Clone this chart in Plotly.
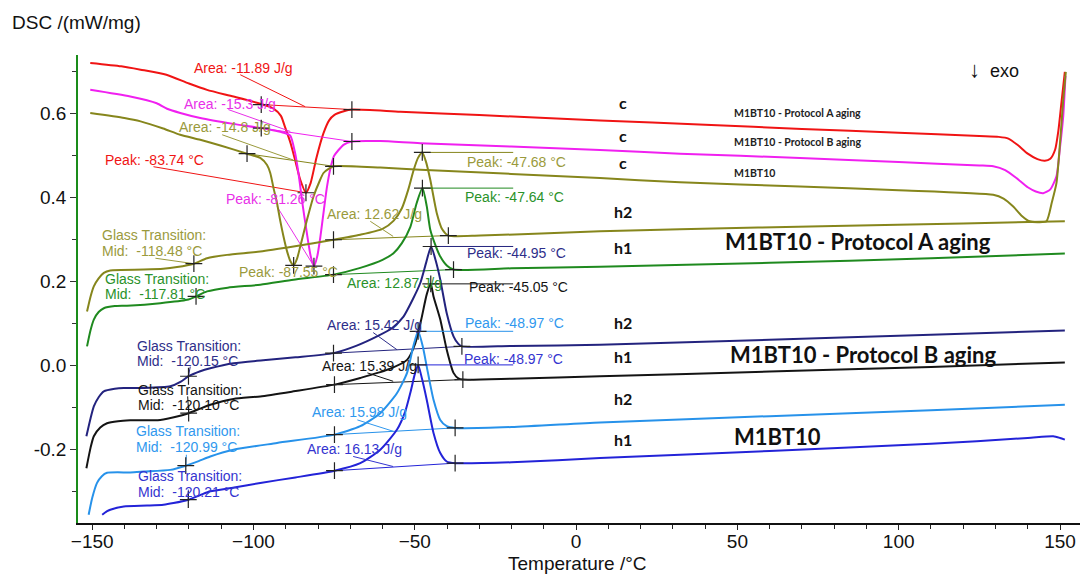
import plotly.graph_objects as go

# ---------------- DSC traces (temperature /°C, DSC /(mW/mg)) ----------------
# cooling runs (c)
T_A_c = [-150.6, -141, -135, -127, -120, -114.4, -106.2, -97.9, -93.9, -91.5, -90.3, -88.5, -87.0, -85.5,
         -83.74, -82.3, -80.5, -78.3, -76.5, -75, -72, -69.5, -54.5, -30, 7.4, 40, 70, 100, 125, 131, 134,
         137, 140, 143, 145.3, 147, 148.5, 149.5, 150.5, 151.5]
Y_A_c = [0.721, 0.713, 0.705, 0.693, 0.672, 0.657, 0.641, 0.624, 0.613, 0.595, 0.570, 0.530, 0.487, 0.443,
         0.412, 0.435, 0.495, 0.554, 0.585, 0.597, 0.606, 0.610, 0.605, 0.597, 0.584, 0.574, 0.564, 0.555,
         0.547, 0.545, 0.541, 0.525, 0.505, 0.492, 0.488, 0.493, 0.515, 0.560, 0.630, 0.700]

T_B_c = [-150.6, -138.2, -130, -126.8, -122.7, -116.5, -106.2, -97.6, -90.7, -88.6, -87.2, -86.0, -84.8,
         -83.5, -82.3, -81.26, -80.2, -79.3, -78.2, -77.2, -76.0, -75.0, -72.1, -69.5, -60.7, -48.3, 7.4,
         32.2, 69.4, 100, 125, 129.3, 133, 136.5, 140, 142.5, 144.8, 147, 148.9, 150, 151, 151.7]
Y_B_c = [0.657, 0.641, 0.625, 0.612, 0.602, 0.590, 0.576, 0.566, 0.555, 0.548, 0.510, 0.455, 0.385,
         0.318, 0.262, 0.237, 0.262, 0.305, 0.370, 0.427, 0.475, 0.500, 0.526, 0.534, 0.535, 0.530, 0.514,
         0.505, 0.495, 0.485, 0.477, 0.475, 0.466, 0.447, 0.425, 0.415, 0.411, 0.420, 0.451, 0.520, 0.594, 0.690]

T_M_c = [-150.6, -140, -135, -128, -122.7, -116.5, -110, -102, -97.9, -95.8, -94.8, -93.7, -92.7, -91.7,
         -90.7, -89.5, -88.5, -87.55, -86.5, -85.5, -83.4, -81.4, -79.5, -78.3, -76.5, -75.2, -60.7, -48.3,
         7.4, 32.2, 69.4, 100, 129.3, 132.5, 135.5, 138, 140.6, 143, 145.8, 147.5, 148.9, 150, 151, 151.8]
Y_M_c = [0.602, 0.590, 0.582, 0.565, 0.550, 0.538, 0.524, 0.505, 0.495, 0.478, 0.459, 0.420, 0.387, 0.345,
         0.308, 0.270, 0.248, 0.239, 0.255, 0.284, 0.348, 0.403, 0.440, 0.459, 0.470, 0.475, 0.472, 0.467,
         0.447, 0.437, 0.427, 0.418, 0.407, 0.398, 0.379, 0.358, 0.344, 0.342, 0.344, 0.390, 0.435, 0.530,
         0.633, 0.700]

# heating runs (h1 / h2)
T_A_h2 = [-151.6, -150.5, -149.5, -148, -146.4, -144.4, -134, -128, -123.7, -118.48, -114.4, -108.2, -97.9,
          -87.6, -75.2, -66.9, -60, -56.6, -54, -52, -50.4, -49, -47.68, -46.5, -45.2, -43.2, -41.5, -39.6,
          -29.7, 7.4, 32.2, 80, 120, 151.5]
Y_A_h2 = [0.129, 0.165, 0.189, 0.208, 0.221, 0.227, 0.229, 0.231, 0.235, 0.243, 0.256, 0.264, 0.272,
          0.284, 0.300, 0.312, 0.326, 0.345, 0.375, 0.420, 0.465, 0.495, 0.508, 0.485, 0.443, 0.364, 0.325,
          0.310, 0.310, 0.320, 0.325, 0.333, 0.339, 0.344]

T_A_h1 = [-151.6, -150.5, -149.5, -148, -146.4, -143, -139.2, -128.9, -120.6, -117.81, -114.4, -108, -97.9,
          -87.6, -75.2, -66.9, -60, -56.6, -54, -51.4, -49.5, -47.64, -46.3, -45.2, -43.5, -42.1, -40, -38,
          -20, 7.4, 60, 110, 151.5]
Y_A_h1 = [0.046, 0.085, 0.110, 0.128, 0.137, 0.142, 0.143, 0.149, 0.157, 0.165, 0.177, 0.186, 0.193,
          0.205, 0.217, 0.233, 0.252, 0.268, 0.292, 0.330, 0.385, 0.423, 0.380, 0.324, 0.285, 0.260, 0.238,
          0.229, 0.232, 0.236, 0.245, 0.256, 0.267]

T_B_h2 = [-151.8, -150.5, -149.5, -148, -146.4, -143, -140.2, -134, -125.8, -122.5, -120.15, -116.5, -113.4,
          -106.2, -97, -87, -75.2, -68, -61.7, -57, -53.5, -50.5, -48.3, -46.5, -44.95, -43.5, -42.1, -40.1,
          -38, -36.5, -35.4, -20, 7.4, 60, 110, 151.5]
Y_B_h2 = [-0.168, -0.125, -0.097, -0.075, -0.061, -0.055, -0.053, -0.053, -0.049, -0.038, -0.025, -0.013,
          -0.006, 0.006, 0.013, 0.020, 0.030, 0.048, 0.070, 0.090, 0.117, 0.160, 0.197, 0.245, 0.284, 0.250,
          0.205, 0.125, 0.070, 0.052, 0.046, 0.047, 0.050, 0.062, 0.074, 0.084]

T_B_h1 = [-151.8, -150.5, -149.5, -147.5, -145.4, -142, -138.2, -128.9, -123.7, -120.10, -116.5, -113.4,
          -106.2, -97.9, -87.6, -74.9, -66.9, -58.6, -52.4, -50, -48, -46.3, -45.05, -44.2, -42.1, -40.1,
          -38, -36.5, -35.1, -20, 7.4, 60, 110, 151.5]
Y_B_h1 = [-0.244, -0.195, -0.168, -0.147, -0.137, -0.132, -0.130, -0.129, -0.121, -0.113, -0.102, -0.093,
          -0.079, -0.073, -0.061, -0.045, -0.029, -0.010, 0.014, 0.050, 0.110, 0.170, 0.195, 0.165, 0.110,
          0.038, -0.017, -0.030, -0.033, -0.031, -0.025, -0.014, -0.003, 0.008]

T_M_h2 = [-151.1, -150, -148.5, -147, -145.4, -138.2, -134, -125.8, -120.99, -117, -113.4, -106.2, -92.7,
          -74.9, -66.9, -60.7, -55.5, -52.4, -50.5, -48.97, -47.5, -46.3, -44.2, -42.1, -40.1, -37.5, -20,
          7.4, 60, 110, 151.5]
Y_M_h2 = [-0.355, -0.315, -0.279, -0.263, -0.255, -0.254, -0.252, -0.248, -0.238, -0.227, -0.216, -0.200,
          -0.184, -0.164, -0.144, -0.113, -0.065, -0.017, 0.045, 0.082, 0.045, -0.002, -0.081, -0.129,
          -0.144, -0.148, -0.146, -0.135, -0.120, -0.106, -0.093]

T_M_h1 = [-146.9, -145.5, -144.4, -140.2, -133, -127.9, -124.8, -120.21, -116.5, -113.4, -106, -97.9, -87,
          -74.9, -66.9, -60.7, -55.5, -53, -51.4, -50, -48.97, -47.8, -46.3, -44.2, -42.1, -40.1, -37.5, -20,
          7.4, 60, 110, 140, 147.9, 150, 151.5]
Y_M_h1 = [-0.355, -0.347, -0.343, -0.335, -0.333, -0.331, -0.327, -0.319, -0.308, -0.299, -0.290, -0.279,
          -0.266, -0.250, -0.232, -0.200, -0.152, -0.110, -0.065, -0.020, 0.002, -0.030, -0.081, -0.160,
          -0.208, -0.228, -0.232, -0.230, -0.220, -0.203, -0.186, -0.172, -0.168, -0.172, -0.176]

# ---------------- evaluation results ----------------
# integration limits of each peak: (T_left, T_right), (Y_left, Y_right)
LIM_T = {"A_c": [-97.6, -69.5], "B_c": [-97.6, -69.5], "M_c": [-102, -75.2],
         "A_h2": [-75.2, -39.6], "A_h1": [-75.2, -38], "B_h2": [-75.2, -35.4],
         "B_h1": [-74.9, -35.1], "M_h2": [-74.9, -37.5], "M_h1": [-74.9, -37.5]}
LIM_Y = {"A_c": [0.622, 0.610], "B_c": [0.566, 0.534], "M_c": [0.505, 0.475],
         "A_h2": [0.300, 0.310], "A_h1": [0.217, 0.229], "B_h2": [0.030, 0.046],
         "B_h1": [-0.045, -0.033], "M_h2": [-0.164, -0.148], "M_h1": [-0.250, -0.232]}
PEAK_T = {"A_c": -83.74, "B_c": -81.26, "M_c": -87.55, "A_h2": -47.68, "A_h1": -47.64,
          "B_h2": -44.95, "B_h1": -45.05, "M_h2": -48.97, "M_h1": -48.97}
PEAK_Y = {"A_c": 0.412, "B_c": 0.237, "M_c": 0.239, "A_h2": 0.508, "A_h1": 0.423,
          "B_h2": 0.284, "B_h1": 0.195, "M_h2": 0.082, "M_h1": 0.002}
AREA = {"A_c": -11.89, "B_c": -15.3, "M_c": -14.8, "A_h2": 12.62, "A_h1": 12.87,
        "B_h2": 15.42, "B_h1": 15.39, "M_h2": 15.98, "M_h1": 16.13}
TG_T = {"A_h2": -118.48, "A_h1": -117.81, "B_h2": -120.15, "B_h1": -120.10, "M_h2": -120.99, "M_h1": -120.21}
TG_Y = {"A_h2": 0.243, "A_h1": 0.165, "B_h2": -0.025, "B_h1": -0.113, "M_h2": -0.238, "M_h1": -0.319}

# ---------------- styling ----------------
RUNS = [
    ("A_c", T_A_c, Y_A_c, "#f01414", "#f01414"),
    ("B_c", T_B_c, Y_B_c, "#f020f0", "#e830e8"),
    ("M_c", T_M_c, Y_M_c, "#86861c", "#9a9a3c"),
    ("A_h2", T_A_h2, Y_A_h2, "#86861c", "#9a9a3c"),
    ("A_h1", T_A_h1, Y_A_h1, "#1f8a1f", "#2a922a"),
    ("B_h2", T_B_h2, Y_B_h2, "#23237e", "#2e2e8a"),
    ("B_h1", T_B_h1, Y_B_h1, "#141414", "#141414"),
    ("M_h2", T_M_h2, Y_M_h2, "#2792ea", "#3098ee"),
    ("M_h1", T_M_h1, Y_M_h1, "#2323d8", "#3434d0"),
]
TXT_FONT = "Liberation Sans, Arial, sans-serif"
BOLD_FONT = "Lato, Open Sans, sans-serif"

# label placement (data coordinates of the left edge / vertical centre)
AREA_POS = {"A_c": (-119.0, 0.710), "B_c": (-122.1, 0.624), "M_c": (-123.6, 0.569),
            "A_h2": (-77.8, 0.362), "A_h1": (-71.6, 0.198), "B_h2": (-77.8, 0.098),
            "B_h1": (-79.3, 0.000), "M_h2": (-82.4, -0.110), "M_h1": (-84.0, -0.198)}
AREA_LEAD = {"A_c": ((-104.1, 0.693), (-84.0, 0.617)), "B_c": ((-107.8, 0.610), (-88.6, 0.558)),
             "M_c": ((-109.7, 0.550), (-87.7, 0.490)), "A_h2": ((-63.8, 0.344), (-56.7, 0.308)),
             "B_h2": ((-62.9, 0.079), (-55.5, 0.038)), "B_h1": ((-64.7, -0.017), (-56.7, -0.037)),
             "M_h2": ((-67.8, -0.129), (-56.7, -0.156)), "M_h1": ((-69.1, -0.216), (-56.7, -0.240))}
PEAK_POS = {"A_c": (-146.5, 0.490), "B_c": (-109.0, 0.398), "M_c": (-105.0, 0.224),
            "A_h2": (-34.4, 0.486), "A_h1": (-35.0, 0.402), "B_h2": (-34.4, 0.269),
            "B_h1": (-33.8, 0.188), "M_h2": (-35.0, 0.102), "M_h1": (-35.3, 0.017)}
PEAK_LEAD_START = {"A_c": (-131.0, 0.474), "B_c": (-92.7, 0.379)}
PEAK_LINE_END = -19.5
# two-line glass transition labels: left edge, centre of first line, centre of second line
TG_POS = {"A_h2": (-147.5, 0.312, 0.274), "A_h1": (-146.5, 0.207, 0.170), "B_h2": (-136.6, 0.047, 0.011),
          "B_h1": (-136.3, -0.057, -0.093), "M_h2": (-136.9, -0.155, -0.193), "M_h1": (-136.3, -0.263, -0.300)}
TG_LEAD_START = {"A_h2": (-130.4, 0.256), "B_h2": (-119.6, -0.002), "B_h1": (-120.4, -0.073),
                 "M_h2": (-120.8, -0.212), "M_h1": (-120.2, -0.295)}

SEG_T = ["c", "c", "c", "h2", "h1", "h2", "h1", "h2", "h1"]
SEG_Y = [0.626, 0.548, 0.483, 0.367, 0.281, 0.102, 0.021, -0.079, -0.176]
SEG_X = 14.6
SMALL_NAMES = ["M1BT10 - Protocol A aging", "M1BT10 - Protocol B aging", "M1BT10"]
SMALL_Y = [0.603, 0.532, 0.459]
SMALL_X = 48.3
BIG_NAMES = ["M1BT10 - Protocol A aging", "M1BT10 - Protocol B aging", "M1BT10"]
BIG_X = [45.5, 47.1, 48.3]
BIG_Y = [0.296, 0.026, -0.168]

fig = go.Figure()
annotations = []
line_w = 1.0


def thin(x, y, col):
    fig.add_trace(go.Scatter(x=x, y=y, mode="lines", line=dict(color=col, width=line_w), hoverinfo="skip"))


def label(x, y, text, col):
    annotations.append(dict(x=x, y=y, xref="x", yref="y", xanchor="left", yanchor="middle", showarrow=False,
                            text=text, font=dict(color=col, size=14, family=TXT_FONT)))


for key, T, Y, col, tcol in RUNS:
    fig.add_trace(go.Scatter(x=T, y=Y, mode="lines", line=dict(color=col, width=2, shape="spline", smoothing=0.6),
                             hoverinfo="skip"))
    # straight integration baseline
    thin(LIM_T[key], LIM_Y[key], col)
    if key.endswith("h1") or key.endswith("h2"):
        thin([PEAK_T[key], PEAK_LINE_END], [PEAK_Y[key], PEAK_Y[key]], col)
    # leader lines
    if key in AREA_LEAD:
        (x0, y0), (x1, y1) = AREA_LEAD[key]
        thin([x0, x1], [y0, y1], tcol)
    if key in PEAK_LEAD_START:
        x0, y0 = PEAK_LEAD_START[key]
        thin([x0, PEAK_T[key]], [y0, PEAK_Y[key]], tcol)
    if key in TG_LEAD_START:
        x0, y0 = TG_LEAD_START[key]
        thin([x0, TG_T[key]], [y0, TG_Y[key]], tcol)
    # cross markers: limits, peak, glass transition
    mx = list(LIM_T[key]) + [PEAK_T[key]]
    my = list(LIM_Y[key]) + [PEAK_Y[key]]
    if key in TG_T:
        mx.append(TG_T[key])
        my.append(TG_Y[key])
    fig.add_trace(go.Scatter(x=mx, y=my, mode="markers",
                             marker=dict(symbol="cross-thin", size=12, line=dict(color="#222", width=1.2)),
                             hoverinfo="skip"))
    # text labels
    label(*AREA_POS[key], f"Area: {AREA[key]:g} J/g", tcol)
    label(*PEAK_POS[key], f"Peak: {PEAK_T[key]:.2f} °C", tcol)
    if key in TG_POS:
        gx, gy1, gy2 = TG_POS[key]
        label(gx, gy1, "Glass Transition:", tcol)
        label(gx, gy2, f"Mid:  {TG_T[key]:.2f} °C", tcol)

for s, y in zip(SEG_T, SEG_Y):
    annotations.append(dict(x=SEG_X, y=y, xref="x", yref="y", text=f"<b>{s}</b>", showarrow=False,
                            xanchor="center", yanchor="middle", font=dict(size=16, color="#111", family=BOLD_FONT)))
for name, y in zip(SMALL_NAMES, SMALL_Y):
    annotations.append(dict(x=SMALL_X, y=y, xref="x", yref="y", text=f"<b>{name}</b>", showarrow=False,
                            xanchor="left", yanchor="middle", font=dict(size=10.5, color="#222", family=BOLD_FONT)))
for name, x, y in zip(BIG_NAMES, BIG_X, BIG_Y):
    annotations.append(dict(x=x, y=y, xref="x", yref="y", text=f"<b>{name}</b>", showarrow=False,
                            xanchor="left", yanchor="middle", font=dict(size=22, color="#111", family=BOLD_FONT)))

annotations.append(dict(x=121.1, y=0.705, xref="x", yref="y", text="<span style='font-size:22px'>↓</span>  exo",
                        showarrow=False, xanchor="left", yanchor="middle",
                        font=dict(size=18, color="#111", family=TXT_FONT)))
annotations.append(dict(x=0.499, y=-0.087, xref="paper", yref="paper", text="Temperature /°C", showarrow=False,
                        xanchor="center", yanchor="middle", font=dict(size=19, color="#111", family=TXT_FONT)))
annotations.append(dict(x=-0.068, y=1.0705, xref="paper", yref="paper", text="DSC /(mW/mg)", showarrow=False,
                        xanchor="left", yanchor="middle", font=dict(size=19, color="#111", family=TXT_FONT)))

X_TICKS = [-150, -100, -50, 0, 50, 100, 150]
Y_TICKS = [-0.2, 0.0, 0.2, 0.4, 0.6]

fig.update_layout(
    width=1084, height=574, autosize=False,
    margin=dict(l=78, r=4, t=55, b=51),
    paper_bgcolor="white", plot_bgcolor="white",
    showlegend=False, hovermode=False,
    annotations=annotations,
    xaxis=dict(range=[-154.4, 156.2], tickvals=X_TICKS, ticks="outside", ticklen=5, tickcolor="#222",
               ticklabelstandoff=-5,
               showline=True, linecolor="#111", linewidth=1.5, showgrid=False, zeroline=False,
               tickfont=dict(size=19, color="#111", family=TXT_FONT),
               minor=dict(dtick=10, ticks="outside", ticklen=4, tickcolor="#222")),
    yaxis=dict(range=[-0.3745, 0.740], tickvals=Y_TICKS, ticktext=[f"{v:.1f}" for v in Y_TICKS],
               ticks="outside", ticklen=6, tickcolor="#333", showline=True, linecolor="#1a8c1a", linewidth=1.5,
               showgrid=False, zeroline=False, tickfont=dict(size=19, color="#111", family=TXT_FONT),
               minor=dict(dtick=0.1, ticks="outside", ticklen=4, tickcolor="#333")),
)

fig.write_html("out.html")
